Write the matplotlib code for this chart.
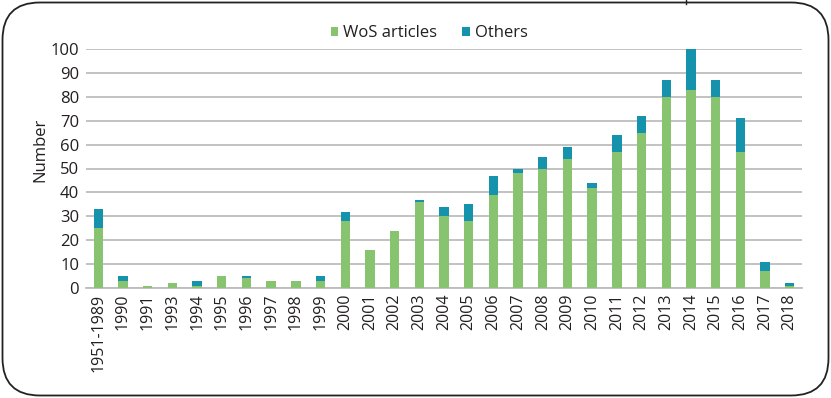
import matplotlib
matplotlib.use("Agg")
import matplotlib.pyplot as plt
from matplotlib.patches import FancyBboxPatch
from matplotlib.lines import Line2D
import numpy as np

plt.rcParams['font.family'] = ['Open Sans', 'DejaVu Sans']

categories = ["1951-1989", "1990", "1991", "1993", "1994", "1995", "1996",
              "1997", "1998", "1999", "2000", "2001", "2002", "2003", "2004",
              "2005", "2006", "2007", "2008", "2009", "2010", "2011", "2012",
              "2013", "2014", "2015", "2016", "2017", "2018"]
wos_articles = [25, 3, 1, 2, 1, 5, 4, 3, 3, 3, 28, 16, 24, 36, 30,
                28, 39, 48, 50, 54, 42, 57, 65, 80, 83, 80, 57, 7, 1]
others = [8, 2, 0, 0, 2, 0, 1, 0, 0, 2, 4, 0, 0, 1, 4,
          7, 8, 2, 5, 5, 2, 7, 7, 7, 17, 7, 14, 4, 1]
y_ticks = [0, 10, 20, 30, 40, 50, 60, 70, 80, 90, 100]

GREEN = "#88C46F"
TEAL = "#1592AC"
GRID = "#BDBDBD"
TEXT = "#231F20"

W, H = 831, 398
fig = plt.figure(figsize=(W / 100, H / 100), dpi=100)

# rounded outer frame
frame = FancyBboxPatch((2.5 / W, 2.5 / H), (W - 5) / W, (H - 5) / H,
                       boxstyle="round,pad=0,rounding_size=0.045",
                       transform=fig.transFigure, fill=False,
                       edgecolor="#222222", linewidth=1.3,
                       mutation_aspect=W / H)
fig.patches.append(frame)
fig.add_artist(Line2D([686 / W, 686 / W], [1 - 0 / H, 1 - 4 / H],
                      transform=fig.transFigure, color="#222222", lw=1.0))

ax = fig.add_axes([86 / W, 1 - 288 / H, (802 - 86) / W, (288 - 49) / H])
x = np.arange(len(categories))
bw = 0.38
ax.bar(x, wos_articles, width=bw, color=GREEN, label="WoS articles",
       zorder=3, clip_on=False)
ax.bar(x, others, width=bw, bottom=wos_articles, color=TEAL,
       label="Others", zorder=3, clip_on=False)

ax.set_xlim(-0.5, len(categories) - 0.5)
ax.set_ylim(0, 100)
ax.set_yticks(y_ticks)
ax.yaxis.grid(True, color=GRID, linewidth=1.3, zorder=0)
ax.set_axisbelow(True)
for s in ["top", "right", "left"]:
    ax.spines[s].set_visible(False)
ax.spines["bottom"].set_color(GRID)
ax.spines["bottom"].set_linewidth(1.3)
ax.tick_params(axis="y", length=0, pad=5, labelsize=12, labelcolor=TEXT)
ax.set_xticks(x)
ax.set_xticklabels(categories, rotation=90, fontsize=11.5, color=TEXT)
ax.tick_params(axis="x", length=0, pad=4)

fig.text(40 / W, 1 - 150 / H, "Number", rotation=90, ha="center",
         va="center", fontsize=12, color=TEXT)

leg = fig.legend(loc="center", bbox_to_anchor=(429 / W, 1 - 33 / H),
                 ncol=2, frameon=False, fontsize=12, handlelength=0.45,
                 handleheight=0.45, handletextpad=0.3, columnspacing=1.5)
for t in leg.get_texts():
    t.set_color(TEXT)

fig.savefig("out.png", dpi=100)
